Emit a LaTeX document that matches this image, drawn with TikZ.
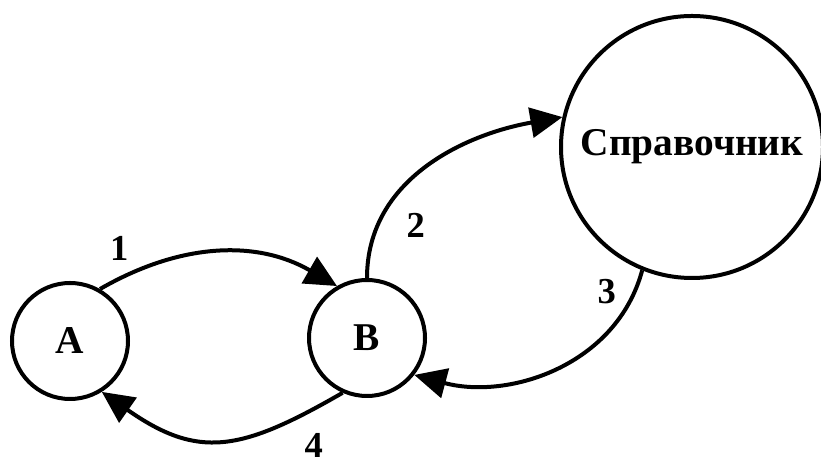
\documentclass[tikz,border=0pt]{standalone}
\usepackage{fontspec}
\setmainfont{Liberation Serif}
\usetikzlibrary{arrows.meta}

\begin{document}
\begin{tikzpicture}[>={Triangle[length=0.8cm,width=0.75cm]},line width=0.1cm,
  main node/.style={circle,draw,inner sep=0pt,minimum size=2.9cm,font=\fontsize{28}{28}\selectfont\bfseries},
  big node/.style={circle,draw,inner sep=0pt,minimum size=6.55cm,font=\fontsize{28}{28}\selectfont\bfseries}]
  \useasboundingbox (0,0) rectangle (20.525,11.7);
  \node[main node] (A) at (1.75,3.175) {A};
  \node[main node] (B) at (9.175,3.25) {B};
  \node[big node] (S) at (17.3,8.025) {Справочник};

  \path[->,every node/.style={font=\fontsize{26}{26}\selectfont\bfseries}]
    (A.60) edge[out=30,in=150] node[pos=0.08,above=0.3cm] {1} (B.120)
    (B.90) edge[out=90,in=190] node[pos=0.2,right=0.55cm] {2} (S.167)
    (S.248) edge[out=-105,in=-15] node[pos=0.08,left=0.3cm] {3} (B.-38)
    (B.246) edge[out=210,in=-35,looseness=1.25] node[pos=0.1,below=0.45cm] {4} (A.-58);
\end{tikzpicture}
\end{document}
